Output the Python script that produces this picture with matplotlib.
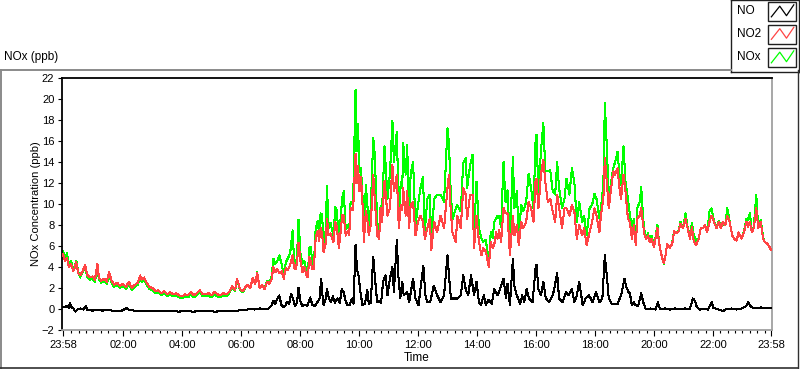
import numpy as np
import matplotlib
matplotlib.use('Agg')
import matplotlib.pyplot as plt
from matplotlib.lines import Line2D
from matplotlib.patches import Rectangle

#===============================================================================
# style
#===============================================================================
plt.style.use('default')
matplotlib.rcParams['font.family'] = ['Liberation Sans', 'DejaVu Sans']
matplotlib.rcParams['font.size'] = 8

#===============================================================================
# data (minutes after the 23:58 start, ppb)
#===============================================================================
t_start = '23:58'
tick_labels = ['23:58', '02:00', '04:00', '06:00', '08:00', '10:00', '12:00',
               '14:00', '16:00', '18:00', '20:00', '22:00', '23:58']
series_names = ['NO', 'NO2', 'NOx']

# shared time base for NO2 / NOx
t_nx = [0, 4, 8, 12, 16, 21, 24, 27, 31, 35, 40, 45, 49, 55, 60, 65, 70, 73, 78, 84,
        89, 94, 98, 104, 110, 116, 122, 128, 134, 140, 146, 152, 157, 160, 165, 170, 176, 182, 188, 194,
        200, 206, 212, 218, 224, 230, 236, 242, 248, 254, 260, 266, 272, 278, 284,
        290, 296, 302, 308, 314, 320, 326, 332, 338, 344, 350, 354, 360, 366, 371, 376, 381, 386, 391, 395,
        400, 405, 410, 415, 420, 424, 428, 432, 436, 440, 445, 449, 453, 457, 462, 467, 470, 473, 476, 479,
        483, 487, 491, 495, 498, 501, 504, 507, 510, 514, 518, 521, 524, 527, 530, 534, 537, 540, 544, 547,
        550, 554, 557, 561, 565, 568,
        571, 575, 579, 582, 585, 590, 595, 597, 600, 603, 606, 609, 612, 616, 619, 622, 626, 631, 634, 639,
        643, 646, 649, 654, 660, 665, 670, 673, 679, 683, 687, 690, 692, 697, 700, 704, 707, 712, 717, 722,
        727, 732, 736, 741, 746, 749, 755, 761, 768, 775, 782, 785, 788, 792, 799, 802, 809, 814, 819, 822,
        828, 833, 836, 841, 846, 851, 855, 860, 866,
        870, 874, 877, 881, 884, 887, 891, 896, 900, 904, 909, 915, 918, 923, 927, 932, 936, 942, 947, 952,
        957, 961, 963, 967, 972, 977, 981, 986, 991, 996, 1001, 1005, 1009, 1015, 1020, 1024, 1030, 1035, 1040, 1045,
        1050, 1056, 1060, 1065, 1071, 1076, 1081, 1085, 1091, 1094, 1099, 1102, 1106, 1110, 1115, 1119, 1123, 1128, 1131, 1135,
        1140, 1144, 1149, 1153, 1157,
        1161, 1165, 1168, 1173, 1176, 1180, 1183, 1186, 1190, 1193, 1197, 1202, 1205, 1209, 1212, 1216, 1219, 1222, 1225, 1229,
        1234, 1239, 1243, 1247, 1252, 1256, 1261, 1266, 1270, 1275, 1279, 1283, 1288, 1293, 1297, 1302, 1306, 1310, 1315, 1319,
        1324, 1329, 1334, 1338, 1342, 1347, 1351, 1356, 1361, 1365, 1370, 1374, 1380, 1385, 1390, 1393, 1397, 1401, 1405, 1410,
        1414, 1419, 1424, 1427, 1433, 1437, 1440]

no2_ppb = [5.2, 4.6, 4.9, 4.0, 4.3, 3.6, 3.9, 4.5, 3.4, 3.2, 3.6, 4.2, 3.3, 3.0, 3.1, 2.8, 4.3, 3.0, 2.7, 2.9,
           2.6, 3.5, 2.8, 2.3, 2.5, 2.2, 2.4, 2.1, 2.6, 2.0, 2.3, 2.5, 3.2, 2.8, 3.0, 2.5, 2.1, 2.0, 1.7, 1.8,
           1.5, 1.7, 1.4, 1.6, 1.4, 1.5, 1.3, 1.2, 1.4, 1.3, 1.6, 1.3, 1.5, 1.8, 1.4,
           1.4, 1.5, 1.3, 1.6, 1.4, 1.3, 1.5, 1.4, 1.6, 2.2, 1.8, 2.9, 1.9, 1.7, 2.1, 2.3, 2.0, 3.0, 2.4, 3.4,
           2.0, 2.3, 1.9, 2.6, 2.4, 2.8, 4.0, 3.5, 3.8, 3.4, 3.6, 2.9, 3.9, 3.7, 4.2, 5.1, 3.9, 3.8, 4.4, 6.3,
           4.6, 3.5, 4.0, 3.2, 3.0, 5.0, 4.5, 3.8, 3.8, 6.8, 7.4, 6.5, 7.7, 7.2, 5.4, 6.2, 8.6, 7.0, 7.2, 6.8,
           6.4, 8.3, 7.8, 5.8, 7.5, 9.0,
           8.9, 7.0, 7.4, 7.0, 9.6, 9.4, 14.8, 12.0, 13.6, 11.2, 12.6, 10.2, 6.4, 9.3, 8.5, 7.0, 8.0, 12.8, 10.5, 7.0,
           6.7, 9.6, 8.3, 12.2, 8.9, 9.6, 13.7, 11.2, 12.8, 7.7, 9.9, 9.4, 11.5, 8.9, 11.2, 7.7, 9.9, 10.2, 7.0, 8.3,
           8.9, 8.3, 6.7, 7.7, 8.6, 5.6, 8.3, 7.3, 8.9, 7.7, 11.5, 12.8, 9.9, 7.3, 6.4, 8.9, 7.7, 11.5, 10.9, 8.6,
           10.9, 10.9, 5.8, 8.9, 6.4, 5.1, 5.8, 5.5, 4.0,
           6.4, 5.8, 6.1, 7.3, 6.7, 7.5, 6.4, 9.6, 9.1, 9.1, 5.1, 8.9, 7.0, 8.0, 6.1, 8.3, 7.7, 8.3, 10.2, 9.6,
           8.3, 12.1, 12.4, 9.6, 12.8, 14.2, 12.1, 10.2, 10.5, 9.3, 8.3, 10.9, 9.6, 7.7, 9.6, 9.6, 8.9, 9.9, 9.3, 6.7,
           8.0, 7.0, 7.7, 6.1, 7.3, 8.3, 9.6, 8.9, 7.3, 8.9, 10.5, 14.4, 12.1, 9.6, 11.5, 13.1, 12.8, 13.4, 11.8, 10.5,
           12.8, 11.2, 8.6, 8.3, 6.7,
           8.0, 6.1, 8.6, 8.9, 9.6, 8.0, 7.0, 6.7, 7.0, 6.4, 6.7, 5.9, 6.7, 7.7, 6.4, 5.4, 4.8, 4.4, 5.0, 6.2,
           5.8, 6.2, 7.4, 7.2, 7.4, 8.1, 7.7, 8.6, 7.8, 6.7, 7.8, 6.4, 6.1, 6.7, 7.7, 7.7, 8.0, 7.3, 8.3, 8.9,
           8.3, 7.7, 8.3, 7.7, 8.3, 8.0, 8.9, 8.3, 7.0, 6.7, 6.5, 7.3, 6.7, 7.3, 8.3, 7.8, 8.3, 7.3, 7.7, 9.6,
           7.7, 8.3, 6.7, 6.4, 6.2, 5.9, 5.6]

nox_ppb = [5.5, 4.9, 5.3, 4.2, 4.6, 3.8, 4.1, 4.6, 3.5, 3.0, 3.5, 4.1, 3.1, 2.8, 2.9, 2.6, 4.0, 2.8, 2.5, 2.7,
           2.4, 3.3, 2.6, 2.1, 2.3, 2.0, 2.2, 1.9, 2.4, 1.8, 2.1, 2.3, 3.0, 2.6, 2.8, 2.3, 1.9, 1.8, 1.5, 1.6,
           1.3, 1.5, 1.2, 1.4, 1.2, 1.3, 1.1, 1.0, 1.2, 1.1, 1.4, 1.1, 1.3, 1.6, 1.2,
           1.2, 1.3, 1.1, 1.4, 1.2, 1.1, 1.3, 1.2, 1.5, 2.1, 1.7, 2.8, 1.8, 1.6, 2.1, 2.3, 2.0, 3.0, 2.4, 3.5,
           2.0, 2.3, 1.9, 2.7, 2.6, 3.0, 4.8, 4.3, 4.6, 5.1, 4.2, 3.2, 4.4, 4.8, 5.3, 7.5, 4.6, 4.2, 5.0, 8.5,
           5.3, 4.3, 4.6, 3.6, 3.3, 5.8, 5.9, 4.4, 4.1, 7.7, 8.4, 7.2, 9.1, 9.0, 6.0, 7.4, 11.7, 7.7, 8.2, 7.6,
           7.0, 9.7, 9.4, 6.5, 8.8, 10.6,
           11.2, 7.6, 8.0, 7.4, 10.2, 10.0, 20.9, 15.0, 17.6, 13.0, 13.4, 11.0, 7.4, 11.8, 10.0, 7.6, 9.6, 16.3, 14.7, 8.3,
           7.5, 9.8, 9.5, 15.5, 10.5, 12.9, 17.9, 14.0, 16.9, 9.0, 12.1, 11.5, 15.8, 12.8, 15.6, 8.8, 12.8, 14.0, 8.0, 9.9,
           11.5, 12.6, 7.5, 10.5, 10.9, 6.5, 10.5, 10.9, 10.9, 10.2, 17.2, 15.8, 11.8, 8.5, 9.6, 9.9, 9.3, 13.9, 14.4, 11.5,
           13.7, 14.7, 7.0, 12.1, 7.7, 6.7, 6.4, 6.6, 4.4,
           7.3, 6.8, 8.3, 8.6, 8.9, 8.8, 7.8, 14.0, 10.2, 11.3, 6.1, 14.5, 9.6, 11.2, 7.0, 9.9, 9.3, 10.2, 12.9, 11.5,
           9.6, 15.8, 16.6, 10.9, 15.0, 17.7, 13.1, 13.1, 13.2, 11.2, 10.9, 14.0, 11.5, 9.6, 10.5, 12.4, 10.9, 13.4, 12.1, 8.3,
           10.2, 8.3, 8.9, 7.0, 9.6, 9.9, 11.0, 10.5, 8.6, 9.6, 11.8, 19.6, 15.5, 10.5, 12.1, 13.4, 14.0, 15.0, 13.1, 11.8,
           15.5, 12.1, 10.5, 9.0, 7.7,
           8.6, 6.4, 9.6, 10.2, 11.6, 8.6, 7.3, 6.9, 7.2, 6.5, 7.0, 5.9, 6.8, 8.0, 6.4, 5.4, 4.8, 4.3, 5.0, 6.2,
           5.8, 6.3, 7.4, 7.3, 7.4, 8.3, 7.7, 9.1, 7.9, 6.8, 8.2, 7.0, 6.5, 6.7, 7.7, 7.7, 8.0, 7.3, 9.3, 9.6,
           8.4, 7.7, 8.4, 7.7, 8.1, 8.0, 9.6, 8.3, 7.0, 6.7, 6.5, 7.3, 6.7, 7.4, 8.6, 8.5, 9.1, 7.4, 7.8, 10.9,
           7.7, 8.5, 6.8, 6.4, 6.2, 5.9, 5.6]

t_no = [0, 4, 8, 12, 14, 17, 22, 25, 30, 36, 42, 46, 50, 60, 70, 80, 90, 100, 110, 120,
        130, 135, 145, 160, 175, 190, 205, 220, 235, 250, 265, 280, 295, 310, 325, 340, 355, 370, 380, 390,
        400, 410, 418, 424, 428, 432, 436, 440, 444, 448, 452, 456, 460, 464, 468, 472, 476, 479, 483, 487,
        492, 497, 503, 507, 512, 517, 522, 525, 528, 530, 534, 537, 541, 545, 549, 553, 558, 563, 567, 571,
        575, 579, 583, 588, 591, 595, 598, 601, 605, 609, 614, 619, 622, 626, 631, 634, 639, 643, 647, 651,
        656, 660, 665, 670, 673, 679, 682, 686, 690, 693, 700, 704, 712, 717, 723, 727, 733, 737, 741, 747,
        754, 761, 768, 775, 782, 785, 789, 795, 802, 809, 814, 819, 824, 830, 836, 841, 846, 850, 856, 860,
        866, 872, 877, 884, 891, 896, 901, 904, 909, 915, 918, 923, 930, 934, 938, 943, 948, 955, 961, 963,
        967, 972, 977, 982, 989, 996, 999, 1005, 1009, 1016, 1023, 1028, 1035, 1040, 1045, 1050, 1057, 1063, 1070, 1077,
        1084, 1091, 1097, 1102, 1106, 1110, 1116, 1122, 1128, 1135, 1142, 1145, 1150, 1153, 1157, 1161, 1165, 1170, 1176, 1180,
        1185, 1195, 1205, 1210, 1214, 1225, 1235, 1245, 1255, 1265, 1275, 1281, 1285, 1289, 1295, 1305, 1312, 1319, 1323, 1330,
        1342, 1350, 1360, 1370, 1380, 1390, 1393, 1397, 1401, 1410, 1420, 1430, 1440]

no_ppb = [0.2, 0.15, 0.3, 0.1, 0.55, 0.2, 0.0, -0.25, 0.0, 0.05, -0.05, 0.27, -0.1, -0.15, -0.1, -0.15, -0.1, -0.15, -0.2, -0.15,
          0.1, -0.1, -0.15, -0.15, -0.2, -0.15, -0.2, -0.15, -0.25, -0.2, -0.25, -0.2, -0.2, -0.25, -0.2, -0.2, -0.15, -0.1, 0.0, -0.05,
          0.05, 0.0, 0.05, 0.3, 0.8, 0.5, 1.0, 1.3, 0.4, 0.2, 0.3, 0.7, 0.5, 1.45, 0.9, 0.3, 0.6, 2.0, 0.7, 0.3,
          0.4, 0.3, 1.1, 0.4, 0.3, 0.6, 1.0, 2.9, 1.2, 0.35, 0.9, 1.9, 1.0, 0.7, 1.2, 0.6, 1.0, 0.6, 1.9, 1.6,
          0.7, 0.35, 0.4, 1.0, 0.5, 6.1, 3.8, 3.2, 1.6, 0.4, 0.5, 1.8, 0.5, 0.6, 5.0, 3.2, 0.65, 0.8, 0.6, 2.6,
          3.2, 1.3, 2.9, 4.0, 1.6, 6.6, 3.2, 1.0, 2.6, 1.3, 1.6, 0.65, 2.9, 1.0, 0.35, 1.9, 4.1, 1.3, 0.65, 0.7,
          2.2, 1.3, 0.65, 1.3, 5.1, 3.2, 1.0, 1.0, 1.0, 1.3, 3.2, 1.9, 1.3, 3.2, 1.3, 2.6, 0.65, 0.4, 1.3, 0.4,
          0.9, 0.5, 1.9, 1.3, 2.2, 2.9, 1.0, 2.4, 0.35, 4.8, 2.2, 1.3, 0.5, 1.3, 0.65, 1.9, 1.0, 0.65, 3.8, 4.2,
          1.9, 1.3, 2.6, 1.0, 0.65, 1.3, 1.9, 3.4, 1.0, 0.65, 1.6, 1.3, 1.9, 0.65, 1.3, 2.6, 0.35, 1.0, 1.3, 0.65,
          1.6, 0.65, 1.0, 5.1, 3.2, 1.0, 0.5, 0.5, 0.5, 1.3, 2.9, 2.2, 1.6, 1.5, 0.35, 0.65, 0.35, 0.3, 1.5, 0.65,
          0.0, 0.05, -0.05, 0.65, 0.0, 0.05, -0.05, 0.05, 0.0, 0.05, 0.0, 1.0, 0.8, 0.2, -0.05, 0.0, -0.05, 0.65, 0.1, 0.0,
          -0.2, 0.0, 0.05, -0.05, 0.05, 0.3, 0.65, 0.35, 0.15, 0.1, 0.15, 0.05, 0.1]

assert len(t_nx) == len(no2_ppb) == len(nox_ppb), (len(t_nx), len(no2_ppb), len(nox_ppb))
assert len(t_no) == len(no_ppb), (len(t_no), len(no_ppb))

colors = {'NO': 'black', 'NO2': '#ff4444', 'NOx': '#00ff00'}

#===============================================================================
# helpers
#===============================================================================
def hhmm_to_offset(lbl, i):
    h, m = lbl.split(':')
    sh, sm = t_start.split(':')
    off = (int(h) * 60 + int(m) - int(sh) * 60 - int(sm)) % 1440
    if off == 0 and i > 0:
        off = 1440
    return off

major_pos = [hhmm_to_offset(l, i) for i, l in enumerate(tick_labels)]
minor_pos = [p for p in np.arange(major_pos[1] - 105, 1440, 15) if p not in major_pos]

#===============================================================================
# figure
#===============================================================================
W, H = 800, 369
fig = plt.figure(figsize=(W / 100, H / 100), dpi=100)
fig.patch.set_facecolor('white')

def px(x0, y0, x1, y1):  # pixel box -> figure fraction rect
    return [x0 / W, 1 - y1 / H, (x1 - x0) / W, (y1 - y0) / H]

ax = fig.add_axes(px(62, 78, 772, 330))

# crisp 1px traces like the original instrument panel
ax.plot(t_nx, nox_ppb, color=colors['NOx'], lw=0.75, zorder=2, antialiased=False)
ax.plot(t_nx, no2_ppb, color=colors['NO2'], lw=0.75, zorder=3, antialiased=False)
ax.plot(t_no, no_ppb, color=colors['NO'], lw=0.75, zorder=4, antialiased=False)

ax.set_xlim(-2, 1442)
ax.set_ylim(-2, 22)
ax.set_yticks(np.arange(-2, 23, 2))
ax.set_xticks(major_pos)
ax.set_xticklabels(tick_labels)
ax.set_xticks(minor_pos, minor=True)
ax.tick_params(axis='y', length=3, width=0.8, pad=2.5, labelsize=8)
ax.tick_params(axis='x', which='major', length=4, width=0.8, pad=3, labelsize=8)
ax.tick_params(axis='x', which='minor', length=2.5, width=0.8)

for side in ['top', 'left']:
    ax.spines[side].set_color('black')
    ax.spines[side].set_linewidth(1.3)
for side in ['right', 'bottom']:
    ax.spines[side].set_color('#a0a0a0')
    ax.spines[side].set_linewidth(1.3)

ax.set_ylabel('NOx Concentration (ppb)', fontsize=8)
ax.yaxis.set_label_coords(-0.03, 0.5)
ax.set_xlabel('Time', fontsize=8.5)
ax.xaxis.set_label_coords(0.5, -0.088)

#===============================================================================
# panel frame and caption
#===============================================================================
def fline(xs, ys, **kw):
    fig.add_artist(Line2D([x / W for x in xs], [1 - y / H for y in ys], transform=fig.transFigure, **kw))

fline([0, 731], [69.5, 69.5], color='#8a8a8a', lw=1.4)
fline([0.7, 0.7], [69.5, 368], color='#8a8a8a', lw=1.4)
fline([0, 798], [367.8, 367.8], color='#303030', lw=1.2)
fline([797.5, 797.5], [70, 368], color='#303030', lw=1.0)

fig.text(4 / W, 1 - 57 / H, 'NOx (ppb)', fontsize=8.5, va='center', ha='left')

#===============================================================================
# legend box
#===============================================================================
lax = fig.add_axes(px(731, 0, 799, 72))
lax.set_xlim(0, 68)
lax.set_ylim(72, 0)
lax.set_xticks([])
lax.set_yticks([])
for s in lax.spines.values():
    s.set_color('#202020')
    s.set_linewidth(1.0)

row_y = [11.5, 34, 57.5]
zig_x = np.array([0.12, 0.42, 0.66, 0.92])
zig_y = np.array([0.78, 0.22, 0.72, 0.15])
for name, yc in zip(series_names, row_y):
    lax.text(6, yc, name, fontsize=8.5, va='center', ha='left')
    lax.add_patch(Rectangle((37, yc - 9.5), 28, 19, fill=False, ec='#202020', lw=1.0))
    lax.plot(37 + 28 * zig_x, yc - 9.5 + 19 * zig_y, color=colors[name], lw=0.9)

fig.savefig('out.png', dpi=100, facecolor='white')
